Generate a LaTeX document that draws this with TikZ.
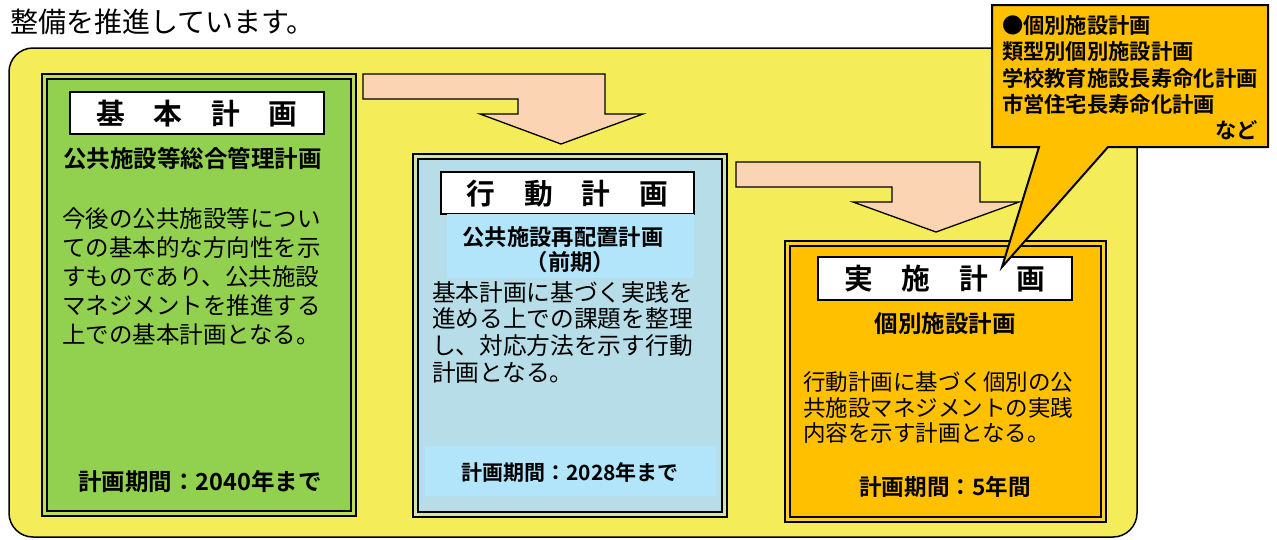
\documentclass[tikz,border=0pt]{standalone}
\usepackage{fontspec}
\setmainfont{Noto Sans CJK JP}[BoldFont={Noto Sans CJK JP Bold}]
\definecolor{bgyellow}{RGB}{245,236,90}
\definecolor{kgreen}{RGB}{146,208,80}
\definecolor{kblue}{RGB}{183,221,232}
\definecolor{kstrip}{RGB}{178,228,250}
\definecolor{korange}{RGB}{255,192,0}
\definecolor{kpeach}{RGB}{251,212,180}
\begin{document}
\begin{tikzpicture}[x=1pt,y=-1pt,
  frameout/.style={draw=black,line width=1.3pt},
  framein/.style={draw=black,line width=2pt},
  titlebox/.style={draw=black,line width=1.3pt,fill=white},
  bentarrow/.style={draw=black,line width=1.3pt,fill=kpeach,line join=miter},
  txt/.style={inner sep=0pt,outer sep=0pt},
  titletxt/.style={txt,anchor=base,font=\fontsize{28.75}{34}\selectfont\bfseries},
  headtxt/.style={txt,anchor=base,font=\fontsize{23.5}{29}\selectfont\bfseries},
  bodytxt/.style={txt,anchor=base west,align=left},
]
\useasboundingbox (0,0) rectangle (1277,539);
\fill[white] (0,0) rectangle (1277,539);

\node[txt,anchor=base west,font=\fontsize{28}{34}\selectfont] (intro) at (10,32.6) {整備を推進しています。};

\draw[fill=bgyellow,line width=1.5pt,rounded corners=24pt] (9,48) rectangle (1137,537);

% arrows
\draw[bentarrow] (363,74) -- (605,74) -- (605,114) -- (643,114) -- (561,144) -- (480,114) -- (518,114) -- (518,99) -- (363,99) -- cycle;
\draw[bentarrow] (736,162) -- (980,162) -- (980,202) -- (1019,202) -- (936,232) -- (853,202) -- (892,202) -- (892,187) -- (736,187) -- cycle;

% green box
\draw[frameout,fill=kgreen!55!bgyellow] (42,74) rectangle (356,516);
\draw[framein,fill=kgreen] (47,79) rectangle (351,511);
\draw[titlebox] (70,92) rectangle (324,134);
\node[titletxt] (t1) at (197,124) {基　本　計　画};
\node[headtxt] (h1) at (192.5,167) {公共施設等総合管理計画};
\node[bodytxt,font=\fontsize{23.5}{29}\selectfont] (b1) at (62,343) {今後の公共施設等につい\\ての基本的な方向性を示\\すものであり、公共施設\\マネジメントを推進する\\上での基本計画となる。};
\node[txt,anchor=base,font=\fontsize{23.5}{29}\selectfont\bfseries] (p1) at (200,490) {計画期間：2040年まで};

% blue box
\draw[frameout,fill=kblue!55!bgyellow] (413,154) rectangle (727,517);
\draw[framein,fill=kblue] (418,159) rectangle (722,512);
\draw[titlebox] (441,172) rectangle (694,214);
\node[titletxt] (t2) at (567.5,204) {行　動　計　画};
\fill[kstrip] (447,214) rectangle (694,278);
\node[txt,anchor=base,align=center,font=\fontsize{22.3}{25}\selectfont\bfseries] (h2) at (563,270.5) {公共施設再配置計画\\\hspace{15pt}（前期）};
\node[bodytxt,font=\fontsize{23.7}{26.7}\selectfont] (b2) at (432,381.1) {基本計画に基づく実践を\\進める上での課題を整理\\し、対応方法を示す行動\\計画となる。};
\fill[kstrip] (425,446) rectangle (716,496);
\node[txt,anchor=base,font=\fontsize{21}{25}\selectfont\bfseries] (p2) at (570,480) {計画期間：2028年まで};

% orange box
\draw[frameout,fill=korange!60!bgyellow] (785,241) rectangle (1106,522);
\draw[framein,fill=korange] (790,246) rectangle (1101,517);
\draw[titlebox] (818,257) rectangle (1072,300);
\node[titletxt] (t3) at (945,289.5) {実　施　計　画};
\node[headtxt] (h3) at (945,332) {個別施設計画};
\node[bodytxt,font=\fontsize{22.5}{25.7}\selectfont] (b3) at (803,441.9) {行動計画に基づく個別の公\\共施設マネジメントの実践\\内容を示す計画となる。};
\node[txt,anchor=base,font=\fontsize{22.6}{26}\selectfont\bfseries] (p3) at (945,495.6) {計画期間：5年間};

% callout
\draw[fill=korange,line width=2pt,line join=miter] (992,5) -- (1268,5) -- (1268,147) -- (1108,147) -- (1002,267) -- (1039,147) -- (992,147) -- cycle;
\node[bodytxt,font=\fontsize{21.3}{26.6}\selectfont\bfseries] (c1) at (1002,112.8) {●個別施設計画\\類型別個別施設計画\\学校教育施設長寿命化計画\\市営住宅長寿命化計画};
\node[txt,anchor=base east,font=\fontsize{21.3}{26.6}\selectfont\bfseries] (c2) at (1258,138) {など};
\end{tikzpicture}
\end{document}
